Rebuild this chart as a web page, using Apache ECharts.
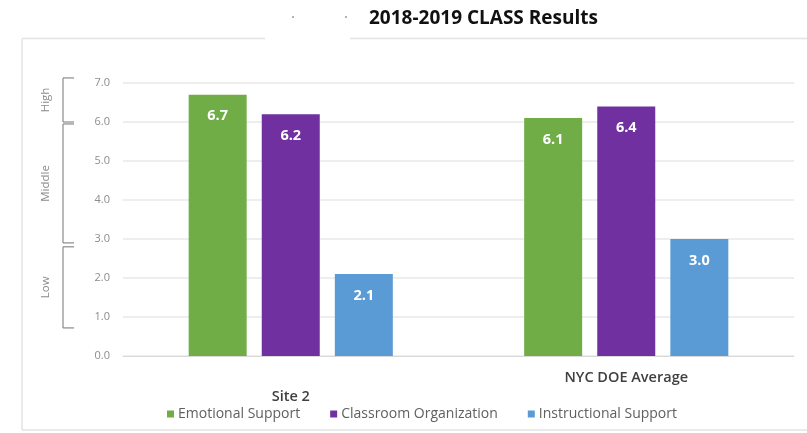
<!DOCTYPE html>
<html>
<head>
<meta charset="utf-8">
<script src="https://cdn.jsdelivr.net/npm/echarts@6/dist/echarts.min.js"></script>
<style>
html,body{margin:0;padding:0;background:#fff;}
#chart{width:807px;height:433px;}
</style>
</head>
<body>
<div id="chart"></div>
<script>
const titleText = '2018-2019 CLASS Results';
const categories = ['Site 2', 'NYC DOE Average'];
const seriesNames = ['Emotional Support', 'Classroom Organization', 'Instructional Support'];
const emotional = [6.7, 6.1];
const classroom = [6.2, 6.4];
const instructional = [2.1, 3.0];
const yTicks = [0, 1, 2, 3, 4, 5, 6, 7];
const bands = [
  { label: 'High', from: 6.0, to: 7.13 },
  { label: 'Middle', from: 2.9, to: 5.95 },
  { label: 'Low', from: 0.72, to: 2.8 }
];
const colors = ['#70AD47', '#7030A0', '#5B9BD5'];
const FONT = '"Open Sans", sans-serif';

const chart = echarts.init(document.getElementById('chart'));
const values = [emotional, classroom, instructional];

const option = {
  animation: false,
  backgroundColor: '#fff',
  title: {
    text: titleText,
    left: 364,
    top: 4,
    textStyle: { fontFamily: FONT, fontWeight: 'bold', fontSize: 19, color: '#111' }
  },
  legend: {
    left: 162,
    top: 402,
    itemWidth: 7,
    itemHeight: 7,
    itemGap: 30,
    icon: 'rect',
    textStyle: { fontFamily: FONT, fontSize: 14, color: '#606060', padding: [0, 0, 0, -1] },
    data: seriesNames
  },
  grid: { left: 123, right: 13, top: 83, bottom: 77 },
  xAxis: {
    type: 'category',
    data: categories,
    axisLine: { lineStyle: { color: '#d9d9d9', width: 1 } },
    axisTick: { show: false },
    axisLabel: {
      margin: 14,
      formatter: function (v, i) { return i === 0 ? '{b|' + v + '}' : '{a|' + v + '}'; },
      rich: {
        a: { fontFamily: FONT, fontSize: 14.5, fontWeight: 600, color: '#404040' },
        b: { fontFamily: FONT, fontSize: 14.5, fontWeight: 600, color: '#404040', padding: [19, 0, 0, 0] }
      }
    }
  },
  yAxis: {
    type: 'value',
    min: yTicks[0],
    max: yTicks[yTicks.length - 1],
    interval: 1,
    axisLine: { show: false },
    axisTick: { show: false },
    axisLabel: {
      margin: 13,
      formatter: function (v) { return v.toFixed(1); },
      fontFamily: FONT, fontSize: 11, color: '#8c8c8c'
    },
    splitLine: { lineStyle: { color: '#e8e8e8', width: 1.5 } }
  },
  series: seriesNames.map(function (name, i) {
    return {
      name: name,
      type: 'bar',
      data: values[i],
      barWidth: 58,
      barGap: '26%',
      itemStyle: { color: colors[i] },
      label: {
        show: true,
        position: 'insideTop',
        distance: 14,
        formatter: function (p) { return p.value.toFixed(1); },
        fontFamily: FONT, fontSize: 14.5, fontWeight: 'bold', color: '#fff'
      }
    };
  })
};
chart.setOption(option);

// decorations: border box, stray dots, and the High/Middle/Low brackets derived from the y-axis scale
const g = [];
const border = '#e3e3e3';
g.push({ type: 'line', shape: { x1: 22, y1: 39, x2: 22, y2: 430 }, style: { stroke: border, lineWidth: 1.5 }, silent: true });
g.push({ type: 'line', shape: { x1: 22, y1: 430, x2: 807, y2: 430 }, style: { stroke: border, lineWidth: 1.5 }, silent: true });
g.push({ type: 'line', shape: { x1: 22, y1: 38.5, x2: 265, y2: 38.5 }, style: { stroke: border, lineWidth: 1.5 }, silent: true });
g.push({ type: 'line', shape: { x1: 350, y1: 38.5, x2: 807, y2: 38.5 }, style: { stroke: border, lineWidth: 1.5 }, silent: true });
g.push({ type: 'circle', shape: { cx: 293, cy: 17, r: 1 }, style: { fill: '#999' }, silent: true });
g.push({ type: 'circle', shape: { cx: 346, cy: 17, r: 1 }, style: { fill: '#999' }, silent: true });

const bx = 63;
bands.forEach(function (b) {
  const yTop = chart.convertToPixel({ yAxisIndex: 0 }, b.to);
  const yBot = chart.convertToPixel({ yAxisIndex: 0 }, b.from);
  const st = { stroke: '#8a8a8a', lineWidth: 1.2 };
  g.push({ type: 'line', shape: { x1: bx, y1: yTop, x2: bx, y2: yBot }, style: st, silent: true });
  g.push({ type: 'line', shape: { x1: bx, y1: yTop, x2: bx + 11, y2: yTop }, style: st, silent: true });
  g.push({ type: 'line', shape: { x1: bx, y1: yBot, x2: bx + 11, y2: yBot }, style: st, silent: true });
  g.push({
    type: 'text',
    x: 46, y: (yTop + yBot) / 2,
    rotation: Math.PI / 2,
    style: { text: b.label, fill: '#8a8a8a', font: '11.5px ' + FONT, align: 'center', verticalAlign: 'middle' },
    silent: true
  });
});
chart.setOption({ graphic: g });
</script>
</body>
</html>
